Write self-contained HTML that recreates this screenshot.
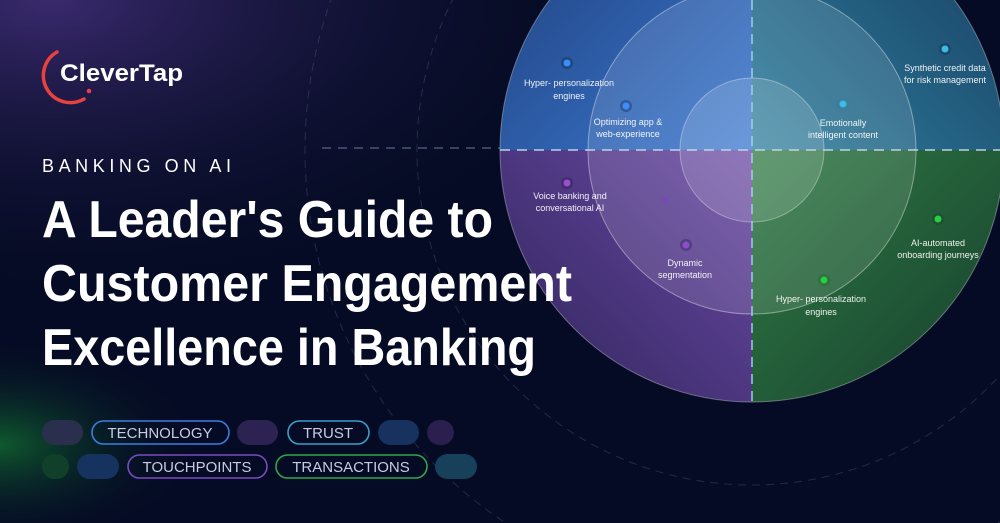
<!DOCTYPE html>
<html><head><meta charset="utf-8"><style>
html,body{margin:0;padding:0;background:#050b24;width:1000px;height:523px;overflow:hidden;}
svg{display:block;font-family:"Liberation Sans",sans-serif;}
</style></head><body>
<svg width="1000" height="523" viewBox="0 0 1000 523" xmlns="http://www.w3.org/2000/svg">
<defs>
<radialGradient id="gp" cx="0.05" cy="0.0" r="0.6"><stop offset="0" stop-color="#3a2a6e"/><stop offset="1" stop-color="#050b24" stop-opacity="0"/></radialGradient>
<radialGradient id="gg" cx="0" cy="0.85" r="0.2"><stop offset="0" stop-color="#0f5a2e"/><stop offset="1" stop-color="#050b24" stop-opacity="0"/></radialGradient>
<clipPath id="outer"><circle cx="752" cy="150" r="252"/></clipPath>
<linearGradient id="tl" x1="0" y1="0" x2="1" y2="1"><stop offset="0" stop-color="#1f3d78"/><stop offset="1" stop-color="#3a78d0"/></linearGradient>
<linearGradient id="tr" x1="1" y1="0" x2="0" y2="1"><stop offset="0" stop-color="#173a5e"/><stop offset="1" stop-color="#2e7f9e"/></linearGradient>
<linearGradient id="bl" x1="0" y1="1" x2="1" y2="0"><stop offset="0" stop-color="#2c2358"/><stop offset="1" stop-color="#6c4aa6"/></linearGradient>
<linearGradient id="br" x1="1" y1="1" x2="0" y2="0"><stop offset="0" stop-color="#163d2c"/><stop offset="1" stop-color="#2f7a44"/></linearGradient>
</defs>
<rect width="1000" height="523" fill="#050b24"/>
<rect width="1000" height="523" fill="url(#gp)"/>
<rect width="1000" height="523" fill="url(#gg)"/>
<g fill="none" stroke="#6a7598" stroke-opacity="0.3" stroke-width="1" stroke-dasharray="8 6">
<circle cx="752" cy="150" r="335"/>
<circle cx="752" cy="150" r="447"/>
</g>
<line x1="322" y1="148" x2="1000" y2="148" stroke="#7a86a8" stroke-opacity="0.6" stroke-width="1.5" stroke-dasharray="9 7"/>
<g clip-path="url(#outer)">
<rect x="500" y="-110" width="252" height="260" fill="url(#tl)"/>
<rect x="752" y="-110" width="252" height="260" fill="url(#tr)"/>
<rect x="500" y="150" width="252" height="260" fill="url(#bl)"/>
<rect x="752" y="150" width="252" height="260" fill="url(#br)"/>
</g>
<circle cx="752" cy="150" r="252" fill="none" stroke="#ffffff" stroke-opacity="0.35"/>
<circle cx="752" cy="150" r="164" fill="#ffffff" fill-opacity="0.12" stroke="#ffffff" stroke-opacity="0.4"/>
<circle cx="752" cy="150" r="72" fill="#ffffff" fill-opacity="0.14" stroke="#ffffff" stroke-opacity="0.35"/>
<line x1="752" y1="0" x2="752" y2="402" stroke="#a8d0f0" stroke-opacity="0.7" stroke-width="2" stroke-dasharray="10 7"/>
<line x1="500" y1="150" x2="1000" y2="150" stroke="#c8d8e8" stroke-opacity="0.7" stroke-width="2" stroke-dasharray="10 7"/>
<g>
<circle cx="567" cy="63" r="6" fill="#1d3f6a" opacity="0.7"/><circle cx="567" cy="63" r="3.5" fill="#3a8cff"/>
<circle cx="626" cy="106" r="6" fill="#294f88" opacity="0.7"/><circle cx="626" cy="106" r="3.5" fill="#3a8cff"/>
<circle cx="945" cy="49" r="6" fill="#1c3e58" opacity="0.7"/><circle cx="945" cy="49" r="3.5" fill="#38bde8"/>
<circle cx="843" cy="104" r="6" fill="#3a7e9a" opacity="0.7"/><circle cx="843" cy="104" r="3.5" fill="#38bde8"/>
<circle cx="567" cy="183" r="6" fill="#3a2860" opacity="0.7"/><circle cx="567" cy="183" r="3.5" fill="#9b4fd0"/>
<circle cx="665" cy="200" r="3" fill="#7a46c0"/>
<circle cx="686" cy="245" r="6" fill="#4a3478" opacity="0.7"/><circle cx="686" cy="245" r="3.5" fill="#8d4cc8"/>
<circle cx="938" cy="219" r="6" fill="#1f4a30" opacity="0.7"/><circle cx="938" cy="219" r="3.5" fill="#22d040"/>
<circle cx="824" cy="280" r="6" fill="#2e6a40" opacity="0.7"/><circle cx="824" cy="280" r="3.5" fill="#22d040"/>
</g>
<g fill="#ffffff" font-size="9" text-anchor="middle" opacity="0.92">
<text x="569" y="86">Hyper- personalization</text><text x="569" y="99">engines</text>
<text x="628" y="125">Optimizing app &amp;</text><text x="628" y="137">web-experience</text>
<text x="945" y="71">Synthetic credit data</text><text x="945" y="83">for risk management</text>
<text x="843" y="126">Emotionally</text><text x="843" y="138">intelligent content</text>
<text x="570" y="199">Voice banking and</text><text x="570" y="211">conversational AI</text>
<text x="685" y="266">Dynamic</text><text x="685" y="278">segmentation</text>
<text x="938" y="246">AI-automated</text><text x="938" y="258">onboarding journeys</text>
<text x="821" y="302">Hyper- personalization</text><text x="821" y="315">engines</text>
</g>
<path d="M57 52 A24 24 0 0 0 84 99" fill="none" stroke="#e8423f" stroke-width="3.5" stroke-linecap="round"/>
<circle cx="89" cy="91" r="2.3" fill="#e8423f"/>
<text x="60" y="81" fill="#ffffff" font-size="24" font-weight="bold" textLength="123" lengthAdjust="spacingAndGlyphs">CleverTap</text>
<text x="42" y="172" fill="#ffffff" font-size="18" textLength="189" lengthAdjust="spacing">BANKING ON AI</text>
<g fill="#ffffff" font-size="52" font-weight="bold">
<text x="42" y="237" textLength="451" lengthAdjust="spacingAndGlyphs">A Leader's Guide to</text>
<text x="42" y="301" textLength="530" lengthAdjust="spacingAndGlyphs">Customer Engagement</text>
<text x="42" y="365" textLength="494" lengthAdjust="spacingAndGlyphs">Excellence in Banking</text>
</g>
<g>
<rect x="42" y="420" width="41" height="25" rx="12.5" fill="#2a2f4e"/>
<rect x="92" y="421" width="137" height="23" rx="11.5" fill="none" stroke="#3c7ee0" stroke-width="1.6"/>
<rect x="237" y="420" width="41" height="25" rx="12.5" fill="#2c2352"/>
<rect x="288" y="421" width="81" height="23" rx="11.5" fill="none" stroke="#3aa0c8" stroke-width="1.6"/>
<rect x="378" y="420" width="41" height="25" rx="12.5" fill="#17325e"/>
<rect x="427" y="420" width="27" height="25" rx="12.5" fill="#2a1f4e"/>
<rect x="42" y="454" width="27" height="25" rx="12.5" fill="#11402a"/>
<rect x="77" y="454" width="42" height="25" rx="12.5" fill="#16325e"/>
<rect x="128" y="455" width="139" height="23" rx="11.5" fill="none" stroke="#7a4cc0" stroke-width="1.6"/>
<rect x="276" y="455" width="151" height="23" rx="11.5" fill="none" stroke="#2ea84a" stroke-width="1.6"/>
<rect x="435" y="454" width="42" height="25" rx="12.5" fill="#17405a"/>
</g>
<g fill="#c8cce0" font-size="15" text-anchor="middle">
<text x="160" y="438">TECHNOLOGY</text>
<text x="328" y="438">TRUST</text>
<text x="197" y="472">TOUCHPOINTS</text>
<text x="351" y="472">TRANSACTIONS</text>
</g>
</svg>
</body></html>
